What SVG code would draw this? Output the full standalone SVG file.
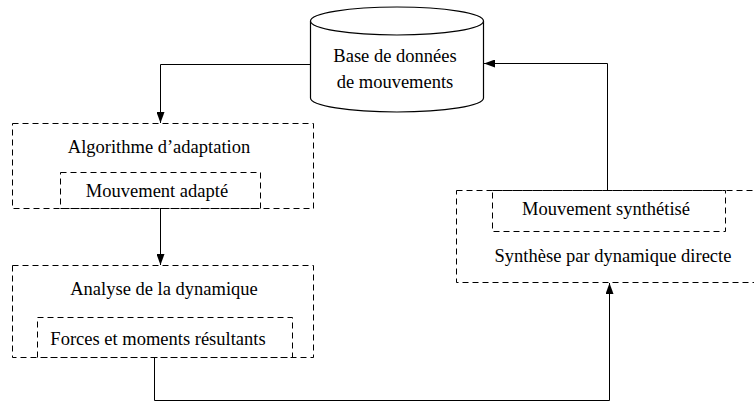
<svg xmlns="http://www.w3.org/2000/svg" width="754" height="402" viewBox="0 0 754 402">
<style>
.box{fill:none;stroke:#000;stroke-width:1;stroke-dasharray:6,4}
.con{fill:none;stroke:#000;stroke-width:1}
.t{font-family:"Liberation Serif","Times New Roman",serif;font-size:18.5px;fill:#000;text-anchor:middle}
</style>
<defs>
<marker id="ah" markerWidth="12" markerHeight="8" refX="11" refY="4" orient="auto" markerUnits="userSpaceOnUse">
<path d="M0,0 L11,4 L0,8 z" fill="#000"/>
</marker>
</defs>
<rect width="754" height="402" fill="#fff"/>
<g id="db">
<path d="M310.5,21 L310.5,98 A86.5,14 0 0 0 483.5,98 L483.5,21" fill="#fff" stroke="#000" stroke-width="1.2"/>
<ellipse cx="397" cy="21" rx="86.5" ry="14" fill="#fff" stroke="#000" stroke-width="1.2"/>
<text class="t" x="395" y="62">Base de données</text>
<text class="t" x="395" y="88">de mouvements</text>
</g>
<g id="adapt">
<rect class="box" x="12.5" y="123.5" width="301" height="85"/>
<text class="t" x="159" y="153">Algorithme d’adaptation</text>
<rect class="box" x="60.5" y="172.5" width="200" height="36"/>
<text class="t" x="157" y="197">Mouvement adapté</text>
</g>
<g id="analyse">
<rect class="box" x="12.5" y="265.5" width="301" height="92"/>
<text class="t" x="164" y="295">Analyse de la dynamique</text>
<rect class="box" x="37.5" y="317.5" width="255" height="40"/>
<text class="t" x="158" y="345">Forces et moments résultants</text>
</g>
<g id="synthese">
<rect class="box" x="456.5" y="190.5" width="310" height="92"/>
<rect class="box" x="492.5" y="190.5" width="233" height="41"/>
<text class="t" x="606" y="215">Mouvement synthétisé</text>
<text class="t" x="613" y="262">Synthèse par dynamique directe</text>
</g>
<g id="connectors">
<path class="con" d="M310,64.5 L160.5,64.5 L160.5,123" marker-end="url(#ah)"/>
<path class="con" d="M160.5,208 L160.5,265" marker-end="url(#ah)"/>
<path class="con" d="M154.5,357 L154.5,400.5 L609.5,400.5 L609.5,283" marker-end="url(#ah)"/>
<path class="con" d="M607.5,190 L607.5,63.5 L484,63.5" marker-end="url(#ah)"/>
</g>
</svg>
